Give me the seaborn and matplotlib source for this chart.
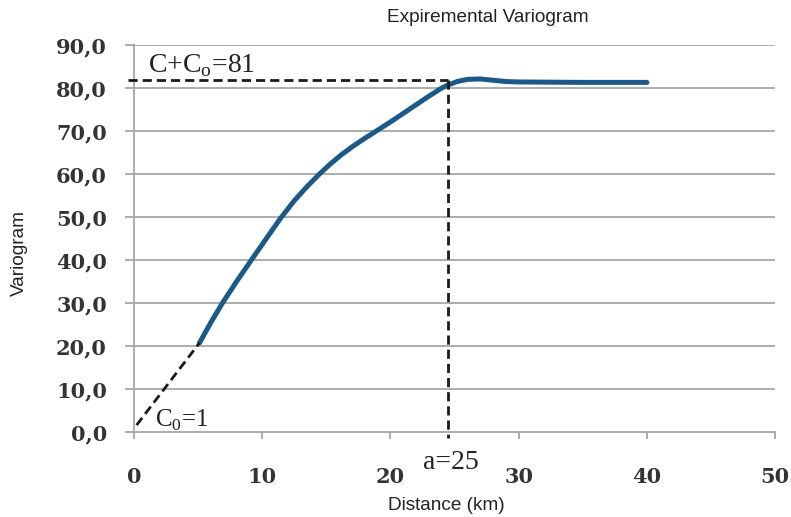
import matplotlib
matplotlib.use("Agg")
import matplotlib.pyplot as plt
import seaborn as sns
import pandas as pd

distance = [5.1, 6.0, 6.9, 8.0, 9.2, 10.3, 11.4, 12.5, 13.5, 14.5, 15.3, 16.1, 17.0, 18.0,
            19.0, 20.0, 21.0, 22.0, 23.0, 24.0, 24.5, 25.2, 26.0, 27.0, 28.0, 29.0, 30.0, 35.0, 40.0]
variogram = [20.7, 25.5, 30.0, 35.0, 40.2, 44.9, 49.6, 53.8, 57.1, 60.1, 62.3, 64.3, 66.3, 68.3,
             70.2, 72.1, 74.1, 76.1, 78.1, 80.0, 80.7, 81.5, 82.0, 82.1, 81.8, 81.5, 81.4, 81.3, 81.3]

# Model guide lines
nugget_x = [0.2, 5.1]
nugget_y = [1.6, 20.7]
sill_x = [-0.5, 24.5]
sill_y = [81.9, 81.9]
range_x = [24.5, 24.5]
range_y = [81.9, -1.5]

x_ticks = [0, 10, 20, 30, 40, 50]
y_ticks = [0, 10, 20, 30, 40, 50, 60, 70, 80, 90]
y_tick_labels = ["0,0", "10,0", "20,0", "30,0", "40,0", "50,0", "60,0", "70,0", "80,0", "90,0"]

sns.set_theme(style="white")
fig = plt.figure(figsize=(7.91, 5.17), dpi=100)
ax = fig.add_axes([0.1694, 0.1644, 0.8106, 0.7486])

df = pd.DataFrame({"Distance": distance, "Variogram": variogram})
sns.lineplot(data=df, x="Distance", y="Variogram", sort=False, ax=ax,
             color="#1b5a88", linewidth=3.6, zorder=4)

grid_c = "#a6a6a6"
for yv in y_ticks[1:]:
    ax.axhline(yv, color=grid_c, linewidth=1.3, zorder=1)

dash = dict(color="#1a1a1a", linewidth=2.0, linestyle=(0, (3.3, 1.8)), zorder=5, clip_on=False)
ax.plot(nugget_x, nugget_y, **dash)
ax.plot(sill_x, sill_y, **dash)
ax.plot(range_x, range_y, **dash)

ax.set_xlim(0, 50)
ax.set_ylim(0, 90)
ax.set_xticks(x_ticks)
ax.set_yticks(y_ticks)
ax.set_yticklabels(y_tick_labels)

for lab in ax.get_xticklabels() + ax.get_yticklabels():
    lab.set_fontfamily("DejaVu Serif")
    lab.set_fontweight("bold")
    lab.set_fontsize(15)
    lab.set_color("#333333")

for s in ["top", "right"]:
    ax.spines[s].set_visible(False)
for s in ["left", "bottom"]:
    ax.spines[s].set_color(grid_c)
    ax.spines[s].set_linewidth(1.3)

ax.tick_params(axis="x", direction="out", length=5, width=1.3, color=grid_c, pad=20, bottom=True)
ax.tick_params(axis="y", direction="out", length=6.5, width=1.3, color=grid_c, pad=13, left=True)

ax.set_xlabel("Distance (km)", family="Liberation Sans", fontsize=13.7, color="#222222")
ax.xaxis.label.set_va("center")
ax.xaxis.set_label_coords(0.487, -0.191)
ax.set_ylabel("Variogram", family="Liberation Sans", fontsize=13.7, color="#222222")
ax.yaxis.label.set_va("center")
ax.yaxis.set_label_coords(-0.178, 0.4625)
fig.text(0.617, 0.966, "Expiremental Variogram", family="Liberation Sans", fontsize=13.7,
         color="#222222", ha="center", va="center")

ax.text(1.1, 83.7, r"C+C$_\mathregular{o}$=81", ha="left", va="baseline",
        family="Liberation Serif", fontsize=20, color="#222222")
ax.text(1.64, 1.2, r"C$_\mathregular{0}$=1", ha="left", va="baseline",
        family="Liberation Serif", fontsize=18, color="#222222")
ax.text(22.55, -8.7, "a=25", ha="left", va="baseline",
        family="Liberation Serif", fontsize=20, color="#222222")

fig.savefig("out.png", dpi=100)
